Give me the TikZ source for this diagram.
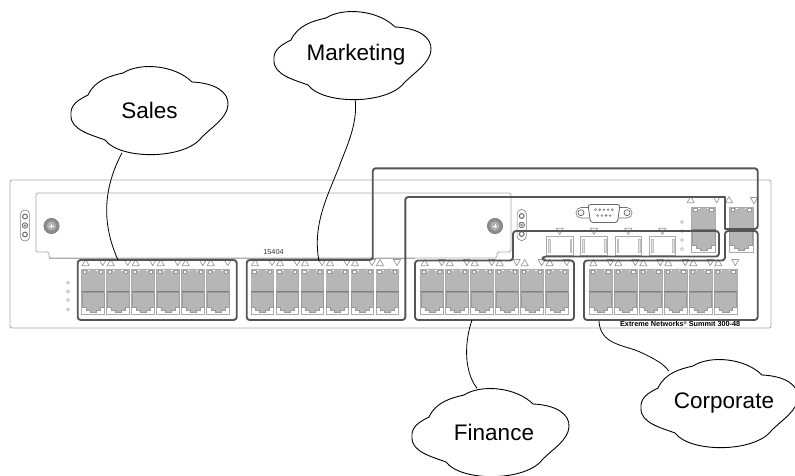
\documentclass[tikz,border=0pt]{standalone}
\usepackage{fontspec}
\setmainfont{Liberation Sans}
\usetikzlibrary{shapes.geometric}
\definecolor{chassis}{HTML}{ABABAB}
\definecolor{portgray}{HTML}{B6B6B6}
\definecolor{portline}{HTML}{9A9A9A}
\definecolor{trim}{HTML}{808080}
\definecolor{vlan}{HTML}{555555}
\tikzset{
  x=1pt,y=-1pt,
  chassisline/.style={draw=chassis,line width=.9pt,line join=round},
  cloudline/.style={draw=black,line width=.9pt,line join=round},
  cloudlabel/.style={shape=ellipse,minimum width=156pt,minimum height=90pt,inner sep=0pt,font=\fontsize{22.5}{24}\selectfont,text=black},
  wire/.style={draw=black,line width=.8pt},
  vlanline/.style={draw=vlan,line width=1.9pt,rounded corners=3pt,line join=round},
  ledtri/.style={draw=portline,line width=.7pt,fill=white,line join=round},
  leddot/.style={draw=chassis,line width=.6pt,fill=white},
  triup/.pic={\path[ledtri] (-3.6,6.2) -- (0,0) -- (3.6,6.2) -- cycle;},
  tridown/.pic={\path[ledtri] (-3.6,0) -- (3.6,0) -- (0,6.2) -- cycle;},
  duplexport/.pic={
    \draw[draw=chassis,line width=.5pt,fill=white] (0,0) rectangle (22.7,45);
    \fill[portgray] (.4,.4) rectangle (22.3,21.6);
    \path[draw=portline,line width=.4pt,fill=white] (1.6,1) rectangle (4.8,3.8);
    \path[draw=portline,line width=.4pt,fill=white] (17,1) rectangle (20.6,3.8);
    \fill[white] (6.2,.2) rectangle (8,1.4);
    \fill[white] (14.6,.2) rectangle (15.8,1.4);
    \path[fill=portgray,draw=portline,line width=.6pt] (.4,22.5) -- (22.3,22.5) -- (22.3,38.2) -- (18.2,38.2) -- (18.2,40.8) -- (14.6,40.8) -- (14.6,43.2) -- (8.1,43.2) -- (8.1,40.8) -- (4.5,40.8) -- (4.5,38.2) -- (.4,38.2) -- cycle;
    \fill[trim] (0,21) rectangle (22.7,22.7);
  },
  sfpcage/.pic={
    \draw[draw=chassis,line width=.9pt,fill=white] (0,0) rectangle (26.4,19);
    \path[fill=black!10,draw=black!25,line width=.4pt] (1.6,3) rectangle (3.4,16);
    \path[fill=black!10,draw=black!25,line width=.4pt] (23,3) rectangle (24.8,16);
  },
  faceplatescrew/.pic={
    \path[fill=black!45,draw=black!55,line width=.5pt] (0,0) circle (7.7);
    \fill[black!30] (0,0) circle (4.6);
    \draw[white,line width=.9pt] (-2.4,0) -- (2.4,0) (0,-2.4) -- (0,2.4);
  },
  earmount/.pic={
    \draw[draw=black!50,line width=.6pt,fill=white,rounded corners=4.3pt] (-4.6,-15.5) rectangle (4.6,15.5);
    \draw[draw=black!60,line width=1pt,fill=white] (0,-9) circle (2.4);
    \draw[draw=black!60,line width=.7pt,fill=black!15] (0,0) circle (2.8);
    \fill[black!55] (0,0) circle (1);
    \draw[draw=black!60,line width=1pt,fill=white] (0,9) circle (2.4);
  }
}
\newcommand{\cloudat}[2]{%
  \draw[cloudline,shift={(#1,#2)}] (-79,5) .. controls (-80,-5) and (-72,-10) .. (-62,-15)
    .. controls (-55,-30) and (-40,-34) .. (-27,-37)
    .. controls (-10,-48) and (25,-45) .. (42,-28)
    .. controls (65,-27) and (79,-18) .. (78,-5)
    .. controls (77,8) and (62,17) .. (52,27)
    .. controls (35,50) and (-30,50) .. (-45,30)
    .. controls (-58,25) and (-80,20) .. (-79,5) -- cycle;}
\begin{document}
\begin{tikzpicture}
\useasboundingbox (0,0) rectangle (795,476);
% chassis
\draw[chassisline,rounded corners=2pt] (10,180) rectangle (771,328);
\draw[chassisline,rounded corners=1.5pt] (36,193) -- (511,193) -- (511,252) -- (497,252) -- (497,258) -- (49,258) -- (49,252) -- (36,252) -- cycle;
\draw[chassisline] (49,258) -- (415,258);
\pic at (51.5,226) {faceplatescrew};
\pic at (495,226) {faceplatescrew};
\pic at (25,225.5) {earmount};
\pic at (521.7,225) {earmount};
% status dots
\foreach \yy in {282.7,291.5,300,309.5} {\path[leddot] (68,\yy) circle (1.5);}
\foreach \yy in {222,231,240,249} {\path[leddot] (682,\yy) circle (1.5);}
% front-panel ports
\foreach \gx in {81.7,251,420.7,589.3} {
  \foreach \i in {0,...,5} {
    \pgfmathsetmacro\px{\gx+25*\i}
    \pic at (\px,269.5) {duplexport};
    \pgfmathsetmacro\ux{\px+4}
    \pgfmathsetmacro\dx{\px+21}
    \pic at (\ux,259.5) {triup};
    \pic at (\dx,259.5) {tridown};
  }
}
% SFP cages
\foreach \cx in {546.7,580.9,615.2,649.3} {
  \pic at (\cx,236.2) {sfpcage};
  \pgfmathsetmacro\tx{\cx+13}
  \pic at (\tx,228.2) {tridown};
}
% uplink ports
\pic[xscale=1.05] at (691.7,207.5) {duplexport};
\pic[xscale=1.05] at (729.3,207.5) {duplexport};
\pic at (690.7,196.5) {triup};
\pic at (716.7,196.5) {tridown};
\pic at (729,196.5) {triup};
\pic at (754,197.5) {tridown};
% serial connector
\draw[draw=black!55,line width=.6pt,fill=white,rounded corners=5pt] (576,207.5) rectangle (632,218);
\draw[draw=black!60,line width=.7pt] (581,212.7) circle (3);
\draw[draw=black!60,line width=.7pt] (627,212.7) circle (3);
\draw[draw=black!60,line width=.8pt,fill=white,rounded corners=2.5pt] (588,204.5) -- (620,204.5) -- (617.5,222.5) -- (590.5,222.5) -- cycle;
\foreach \k in {0,...,4} {\draw[black!60,line width=.4pt] (595.5+4.2*\k,209.7) circle (1);}
\foreach \k in {0,...,3} {\draw[black!60,line width=.4pt] (597.6+4.2*\k,215.5) circle (1);}
% labels on the chassis
\node[font=\fontsize{7.3}{8}\selectfont,text=black!80,inner sep=0pt] (modelnum) at (273.5,252) {15404};
\node[font=\fontsize{7.3}{8}\selectfont\bfseries,inner sep=0pt] (brand) at (680.2,324) {Extreme Networks\raisebox{2pt}{\fontsize{4}{4}\selectfont ®} Summit 300-48};
% port-group outlines
\draw[vlanline] (157,260) -- (77.7,260) -- (77.7,320) -- (236.7,320) -- (236.7,260) -- cycle;
\draw[vlanline] (300,260) -- (246.7,260) -- (246.7,320) -- (405.3,320) -- (405.3,197) [sharp corners] -- (725,197) -- (725,229) [rounded corners=3pt] -- (757.7,229) -- (757.7,168.3) -- (372.7,168.3) -- (372.7,260) -- cycle;
\draw[vlanline] (450,260.5) -- (415,260.5) -- (415,320) -- (574,320) -- (574,260.5) -- (542.7,260.5) -- (542.7,256.5) -- (719,256.5) -- (719,231) -- (513,231) -- (513,260.5) -- cycle;
\draw[vlanline] (650,260.5) -- (584,260.5) -- (584,320) -- (757.7,320) -- (757.7,231) -- (725,231) -- (725,260.5) -- cycle;
% clouds
\cloudat{150}{110}
\cloudat{353}{55}
\cloudat{491}{432}
\cloudat{720}{403}
\node[cloudlabel] (sales) at (149.5,110.5) {Sales};
\node[cloudlabel] (marketing) at (356,55) {Marketing};
\node[cloudlabel] (finance) at (494,432.5) {Finance};
\node[cloudlabel] (corporate) at (724,403) {Corporate};
% connectors
\coordinate (salesport) at (118,260);
\coordinate (marketingport) at (319,261);
\coordinate (financeport) at (472,320);
\coordinate (corporateport) at (599,321);
\draw[wire] (sales.-123) .. controls (105,185) and (100,220) .. (salesport);
\draw[wire] (marketing.-91) .. controls (358,125) and (345,150) .. (339,167) .. controls (328,195) and (312,225) .. (marketingport);
\draw[wire] (financeport) .. controls (465,340) and (463,370) .. (finance.111);
\draw[wire] (corporateport) .. controls (600,345) and (625,345) .. (640,352) .. controls (655,359) and (664,364) .. (corporate.150);
\end{tikzpicture}
\end{document}
